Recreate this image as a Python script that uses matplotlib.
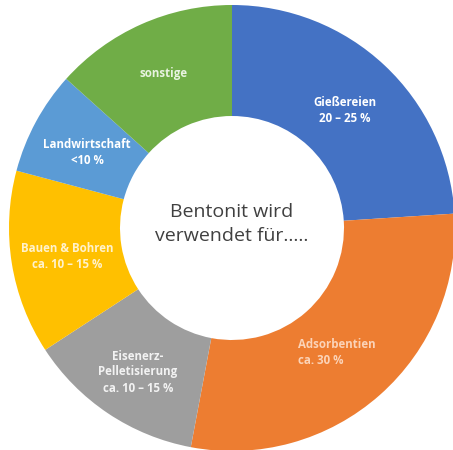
import matplotlib.pyplot as plt

# shares (clockwise from 12 o'clock)
uses = ["Gießereien", "Adsorbentien", "Eisenerz-Pelletisierung",
        "Bauen & Bohren", "Landwirtschaft", "sonstige"]
shares = [23.9, 28.9, 12.8, 13.3, 7.5, 13.3]
colors = ["#4472C4", "#ED7D31", "#9E9E9E", "#FFC000", "#5B9BD5", "#70AD47"]

labels = ["Gießereien\n20 – 25 %", "Adsorbentien\nca. 30 %",
          "Eisenerz-\nPelletisierung\nca. 10 – 15 %",
          "Bauen & Bohren\nca. 10 – 15 %", "Landwirtschaft\n<10 %", "sonstige"]
label_pos = [(345, 110), (298, 353), (138, 372), (67, 257), (87, 153), (164, 74)]
label_col = ["white", "#FBD3B8", "#F2F2F2", "#FFF2CC", "white", "#E8F3E0"]
label_ha = ["center", "left", "center", "center", "center", "center"]

W, H = 453, 450
fig = plt.figure(figsize=(W / 100, H / 100), dpi=100)
ax = fig.add_axes([0, 0, 1, 1])

ax.pie(shares, colors=colors, startangle=90, counterclock=False,
       center=(232, H - 228), radius=223,
       wedgeprops=dict(width=111, linewidth=0))

for txt, (x, y), c, ha in zip(labels, label_pos, label_col, label_ha):
    ax.text(x, H - y, txt, ha=ha, va="center", color=c, fontsize=8.3,
            fontweight="bold", family="Open Sans", linespacing=1.3)

ax.text(232, H - 224, "Bentonit wird\nverwendet für.....", ha="center",
        va="center", fontsize=14, color="#404040", family="Open Sans",
        linespacing=1.45)

ax.set_xlim(0, W)
ax.set_ylim(0, H)
ax.set_aspect("equal")
ax.axis("off")
fig.savefig("out.png", dpi=100)
